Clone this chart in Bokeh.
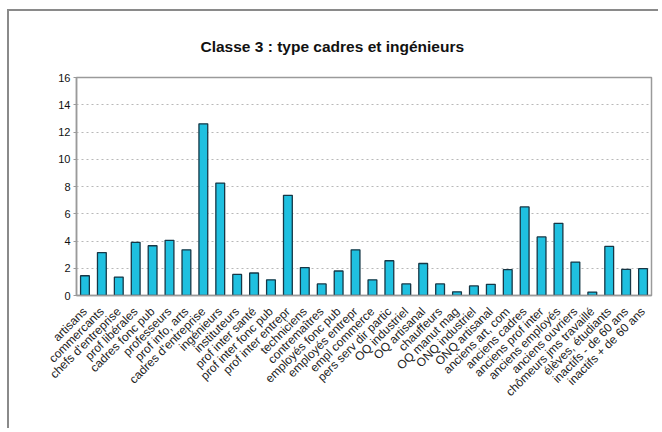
from bokeh.plotting import figure
from bokeh.models import FactorRange, Range1d, FixedTicker, Title
from bokeh.embed import file_html
from bokeh.resources import INLINE
from math import pi

categories = [
    "artisans", "commercants", "chefs d'entreprise", "prof libérales",
    "cadres fonc pub", "professeurs", "prof info, arts", "cadres d'entreprise",
    "ingénieurs", "instituteurs", "prof inter santé", "prof inter fonc pub",
    "prof inter entrepr", "techniciens", "contremaîtres", "employés fonc pub",
    "employés entrepr", "empl commerce", "pers serv dir partic", "OQ industriel",
    "OQ artisanal", "chauffeurs", "OQ manut mag", "ONQ industriel",
    "ONQ artisanal", "anciens art, com", "anciens cadres", "anciens prof inter",
    "anciens employés", "anciens ouvriers", "chômeurs jms travaillé",
    "élèves, étudiants", "inactifs - de 60 ans", "inactifs + de 60 ans",
]
values = [
    1.45, 3.15, 1.35, 3.9, 3.65, 4.05, 3.35, 12.6,
    8.25, 1.55, 1.65, 1.15, 7.35, 2.05, 0.85, 1.8,
    3.35, 1.15, 2.55, 0.85, 2.35, 0.85, 0.27, 0.7,
    0.82, 1.9, 6.5, 4.3, 5.3, 2.45, 0.25, 3.6, 1.92, 1.97,
]
y_ticks = [0, 2, 4, 6, 8, 10, 12, 14, 16]
title_text = "Classe 3 : type cadres et ingénieurs"

p = figure(
    width=651, height=419,
    x_range=FactorRange(*categories, range_padding=0),
    y_range=Range1d(0, 16),
    output_backend="svg", toolbar_location=None,
    min_border_left=67, min_border_right=9,
    min_border_top=66, min_border_bottom=135,
)
p.styles = {"border-left": "2px solid #8a8a8a", "border-top": "2px solid #8a8a8a",
            "margin-left": "7px", "margin-top": "9px"}

p.title = Title(text=title_text, align="left", offset=124, vertical_align="top",
                text_font="Liberation Sans", text_font_size="15.5px",
                text_font_style="bold", text_color="#111111", standoff=42)

p.vbar(x=categories, top=values, width=0.52, fill_color="#1fc0e0",
       line_color="#163746", line_width=1.3)

p.outline_line_color = "#9a9a9a"
p.outline_line_width = 1.5

p.xgrid.grid_line_color = None
p.ygrid.ticker = FixedTicker(ticks=y_ticks)
p.ygrid.grid_line_color = "#b8b8b8"
p.ygrid.grid_line_dash = "2 3"
p.ygrid.grid_line_width = 1

p.yaxis.ticker = FixedTicker(ticks=y_ticks)
p.yaxis.axis_line_color = "#9a9a9a"
p.yaxis.axis_line_width = 1.5
p.yaxis.major_tick_line_color = "#9a9a9a"
p.yaxis.major_tick_out = 3
p.yaxis.major_tick_in = 0
p.yaxis.minor_tick_line_color = None
p.yaxis.major_label_standoff = 3
p.yaxis.major_label_text_font = "Liberation Sans"
p.yaxis.major_label_text_font_size = "11px"
p.yaxis.major_label_text_color = "#111111"

p.xaxis.axis_line_color = "#9a9a9a"
p.xaxis.axis_line_width = 1.5
p.xaxis.major_tick_line_color = None
p.xaxis.major_label_orientation = pi / 4
p.xaxis.major_label_standoff = 8
p.xaxis.major_label_text_font = "Liberation Sans"
p.xaxis.major_label_text_font_size = "12px"
p.xaxis.major_label_text_color = "#222222"

open("out.html", "w").write(file_html(p, INLINE))
